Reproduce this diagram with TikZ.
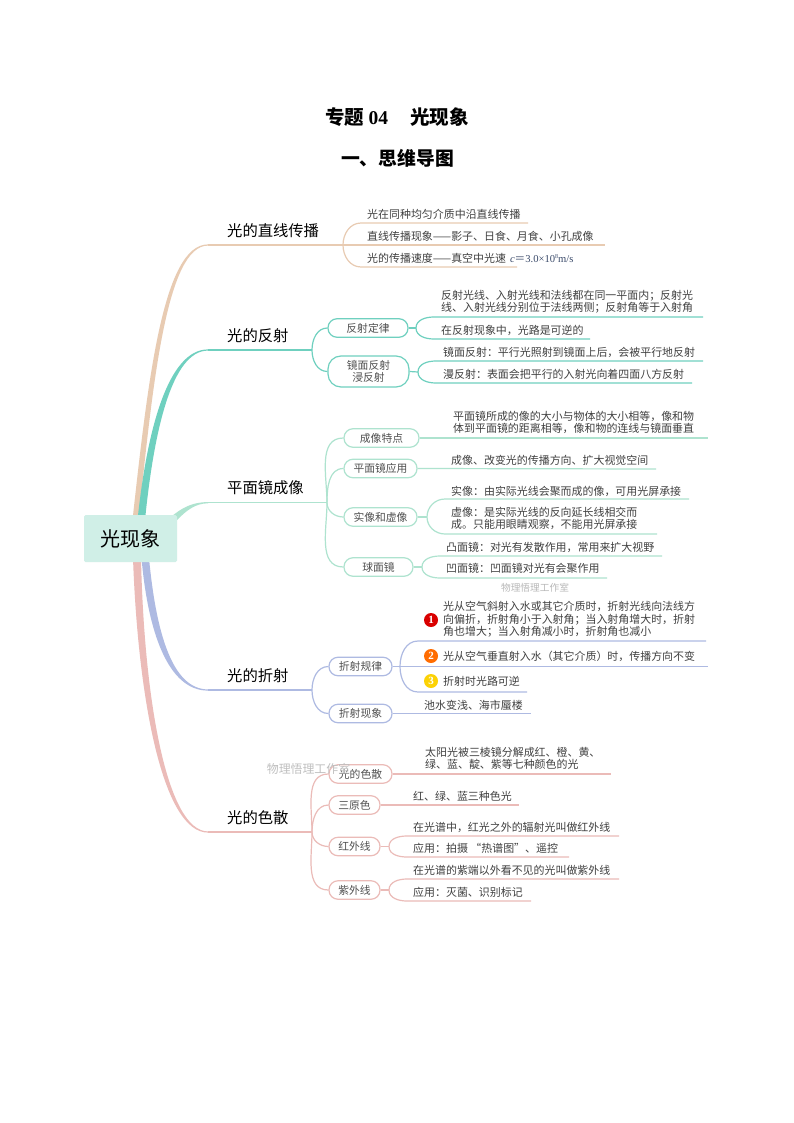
\documentclass[tikz,border=0pt]{standalone}
\usepackage{fontspec}
\usetikzlibrary{calc}
\setmainfont{Noto Sans CJK SC}
\newfontfamily\tm{Liberation Serif}
\definecolor{tanc}{HTML}{E8CBB2}
\definecolor{tealc}{HTML}{6FD0BF}
\definecolor{mintc}{HTML}{AEE3CF}
\definecolor{bluec}{HTML}{AEBAE2}
\definecolor{pinkc}{HTML}{EBBBB8}
\definecolor{rootc}{HTML}{D0EFE7}
\definecolor{txtc}{HTML}{404040}
\definecolor{pilltxt}{HTML}{505050}
\newcommand{\forkup}[3]{\path let \p1=(#2), \p2=(#3) in coordinate (tmpa) at (\x1+18pt,\y2);
  \draw[wire=#1] (#2) to[out=90,in=180] (tmpa) -- (#3);}
\newcommand{\forkdn}[3]{\path let \p1=(#2), \p2=(#3) in coordinate (tmpa) at (\x1+18pt,\y2);
  \draw[wire=#1] (#2) to[out=-90,in=180] (tmpa) -- (#3);}
\tikzset{
  rootbox/.style={fill=rootc,rounded corners=1.5pt,minimum width=93pt,minimum height=47pt,inner sep=0pt,font=\fontsize{20}{24}\selectfont,text=black},
  branchlbl/.style={anchor=west,inner sep=0pt,font=\fontsize{15.3}{18}\selectfont,text=black},
  pill/.style={draw=#1,line width=1.2pt,fill=white,rounded corners=9pt,inner sep=0pt,minimum height=18.5pt,font=\fontsize{10.8}{14}\selectfont,text=pilltxt,align=center},
  leaf/.style={anchor=west,inner sep=0pt,align=left,font=\fontsize{10.95}{12.4}\selectfont,text=txtc},
  wire/.style={draw=#1,line width=1.2pt},
  badge/.style={circle,fill=#1,minimum size=14pt,inner sep=0pt,text=white,font=\tm\bfseries\fontsize{11}{11}\selectfont}
}
\begin{document}
\begin{tikzpicture}[x=1pt,y=-1pt]
\useasboundingbox (0,0) rectangle (794,1123);
\fill[white] (0,0) rectangle (794,1123);

% titles
\node[inner sep=0pt,font=\fontsize{19.5}{22}\selectfont\bfseries] (title) at (397,117) {专题 {\tm 04}\hspace{22pt}光现象};
\node[inner sep=0pt,font=\fontsize{18.8}{22}\selectfont\bfseries] (sub) at (397.5,158) {一、思维导图};

% trunk-to-branch tapers
\fill[tanc] (132.5,520) .. controls (148,380) and (163,244.4) .. (208,244.4) -- (208,245.6) .. controls (167,245.6) and (153,380) .. (138.5,520) -- cycle;
\fill[tealc] (137.5,520) .. controls (147,430) and (168,349.4) .. (208,349.4) -- (208,350.6) .. controls (172,350.6) and (154,430) .. (145,520) -- cycle;
\fill[mintc] (172,516) .. controls (182,508) and (192,502.1) .. (208,502.1) -- (208,503.3) .. controls (195,503.3) and (186,511) .. (177,520) -- cycle;
\fill[bluec] (141.5,558) .. controls (148,632) and (168,690.6) .. (208,690.6) -- (208,689.4) .. controls (172,689.4) and (156,632) .. (149,558) -- cycle;
\fill[pinkc] (133,558) .. controls (138,700) and (163,832.6) .. (208,832.6) -- (208,831.4) .. controls (167,831.4) and (144,700) .. (141,558) -- cycle;

% root
\node[rootbox] (root) at (130.5,538.5) {光现象};

% branch anchors
\coordinate (a1) at (208,245); \coordinate (h1) at (343,245);
\coordinate (a2) at (208,350); \coordinate (h2) at (312,350);
\coordinate (a3) at (208,502.7); \coordinate (h3) at (327,502.7);
\coordinate (a4) at (208,690); \coordinate (h4) at (312,690);
\coordinate (a5) at (208,832); \coordinate (h5) at (312,832);
\draw[wire=tanc] (a1) -- (h1);
\draw[wire=tealc] (a2) -- (h2);
\draw[wire=mintc] (a3) -- (h3);
\draw[wire=bluec] (a4) -- (h4);
\draw[wire=pinkc] (a5) -- (h5);

% branch labels
\node[branchlbl] (l1) at (227,231) {光的直线传播};
\node[branchlbl] (l2) at (227,336) {光的反射};
\node[branchlbl] (l3) at (227,488) {平面镜成像};
\node[branchlbl] (l4) at (227,676) {光的折射};
\node[branchlbl] (l5) at (227,818) {光的色散};

% branch 1
\coordinate (e11) at (528,223); \coordinate (e12) at (605,245); \coordinate (e13) at (517,267);
\forkup{tanc}{h1}{e11}
\draw[wire=tanc] (h1) -- (e12);
\forkdn{tanc}{h1}{e13}
\node[leaf] (t11) at (367,214) {光在同种均匀介质中沿直线传播};
\node[leaf] (t12) at (367,236) {直线传播现象——影子、日食、月食、小孔成像};
\node[leaf] (t13) at (367,258) {光的传播速度——真空中光速\hspace{4pt}{\fontsize{10.6}{12}\selectfont\color[HTML]{3A4A6A}{\tm\textit{c}}＝{\tm 3.0×10\raisebox{3.4pt}{\fontsize{6}{6}\selectfont 8}m/s}}};

% branch 2
\node[pill=tealc,minimum width=80pt] (p21) at (368,328) {反射定律};
\node[pill=tealc,minimum width=81pt,minimum height=31pt,rounded corners=13pt,font=\fontsize{10.8}{12.6}\selectfont] (p22) at (368.5,371.5) {镜面反射\\浸反射};
\draw[wire=tealc] (h2) to[out=90,in=180] (p21.west);
\draw[wire=tealc] (h2) to[out=-90,in=180] (p22.west);
\coordinate (h21) at (416,328); \coordinate (h22) at (418,372);
\coordinate (e211) at (703,317); \coordinate (e212) at (590,339);
\coordinate (e221) at (703,361); \coordinate (e222) at (692,383);
\draw[wire=tealc] (p21.east) -- (h21);
\draw[wire=tealc] (p22.east) -- (h22);
\forkup{tealc}{h21}{e211}
\forkdn{tealc}{h21}{e212}
\forkup{tealc}{h22}{e221}
\forkdn{tealc}{h22}{e222}
\node[leaf] (t211) at (441,302) {反射光线、入射光线和法线都在同一平面内；反射光\\线、入射光线分别位于法线两侧；反射角等于入射角};
\node[leaf] (t212) at (441,330) {在反射现象中，光路是可逆的};
\node[leaf] (t221) at (443,352) {镜面反射：平行光照射到镜面上后，会被平行地反射};
\node[leaf] (t222) at (443,374) {漫反射：表面会把平行的入射光向着四面八方反射};

% branch 3
\node[pill=mintc,minimum width=75pt] (p31) at (381.5,438) {成像特点};
\node[pill=mintc,minimum width=73pt] (p32) at (380.5,468.5) {平面镜应用};
\node[pill=mintc,minimum width=73pt] (p33) at (380.5,517) {实像和虚像};
\node[pill=mintc,minimum width=69pt] (p34) at (378.5,567) {球面镜};
\draw[wire=mintc] (h3) to[out=-90,in=180] (p33.west);
\draw[wire=mintc] (h3) to[out=90,in=180] (p32.west);
\draw[wire=mintc] (h3) to[out=90,in=180] (p31.west);
\draw[wire=mintc] (h3) to[out=-90,in=180] (p34.west);
\coordinate (e31) at (708,438); \coordinate (e32) at (656,469);
\coordinate (h33) at (427,517); \coordinate (h34) at (422,567);
\coordinate (e331) at (689,499); \coordinate (e332) at (657,534);
\coordinate (e341) at (662,556); \coordinate (e342) at (607,578);
\draw[wire=mintc] (p31.east) -- (e31);
\draw[wire=mintc] (p32.east) -- (e32);
\draw[wire=mintc] (p33.east) -- (h33);
\draw[wire=mintc] (p34.east) -- (h34);
\forkup{mintc}{h33}{e331}
\forkdn{mintc}{h33}{e332}
\forkup{mintc}{h34}{e341}
\forkdn{mintc}{h34}{e342}
\node[leaf] (t31) at (453,422.5) {平面镜所成的像的大小与物体的大小相等，像和物\\体到平面镜的距离相等，像和物的连线与镜面垂直};
\node[leaf] (t32) at (451,460) {成像、改变光的传播方向、扩大视觉空间};
\node[leaf] (t331) at (451,491) {实像：由实际光线会聚而成的像，可用光屏承接};
\node[leaf] (t332) at (451,518.5) {虚像：是实际光线的反向延长线相交而\\成。只能用眼睛观察，不能用光屏承接};
\node[leaf] (t341) at (446,547) {凸面镜：对光有发散作用，常用来扩大视野};
\node[leaf] (t342) at (446,568) {凹面镜：凹面镜对光有会聚作用};
\node[inner sep=0pt,font=\fontsize{9.7}{11}\selectfont,text=black!28] (wm1) at (535,588) {物理悟理工作室};

% branch 4
\node[pill=bluec,minimum width=63pt] (p41) at (360.5,666.5) {折射规律};
\node[pill=bluec,minimum width=63pt] (p42) at (360.5,713.5) {折射现象};
\draw[wire=bluec] (h4) to[out=90,in=180] (p41.west);
\draw[wire=bluec] (h4) to[out=-90,in=180] (p42.west);
\coordinate (h41) at (400,666.5);
\coordinate (e411) at (706,641); \coordinate (e412) at (708,666.5); \coordinate (e413) at (527,692);
\coordinate (e42) at (531,713.5);
\draw[wire=bluec] (p41.east) -- (e412);
\forkup{bluec}{h41}{e411}
\forkdn{bluec}{h41}{e413}
\draw[wire=bluec] (p42.east) -- (e42);
\node[badge={red!85!black}] (b1) at (431,620) {1};
\node[badge={orange!85!red}] (b2) at (431,656) {2};
\node[badge={yellow!70!orange}] (b3) at (431,681) {3};
\node[leaf] (t411) at (443,619.5) {光从空气斜射入水或其它介质时，折射光线向法线方\\向偏折，折射角小于入射角；当入射角增大时，折射\\角也增大；当入射角减小时，折射角也减小};
\node[leaf] (t412) at (443,656) {光从空气垂直射入水（其它介质）时，传播方向不变};
\node[leaf] (t413) at (443,681) {折射时光路可逆};
\node[leaf] (t42) at (424,705) {池水变浅、海市蜃楼};

% branch 5
\node[pill=pinkc,minimum width=63pt] (p51) at (360.5,774) {光的色散};
\node[inner sep=0pt,font=\fontsize{11.9}{14}\selectfont,text=black!25] (wm2) at (308.5,769) {物理悟理工作室};
\node[pill=pinkc,minimum width=51pt] (p52) at (354.5,805) {三原色};
\node[pill=pinkc,minimum width=51pt] (p53) at (354.5,846.5) {红外线};
\node[pill=pinkc,minimum width=51pt] (p54) at (354.5,890) {紫外线};
\draw[wire=pinkc] (h5) to[out=90,in=180] (p51.west);
\draw[wire=pinkc] (h5) to[out=90,in=180] (p52.west);
\draw[wire=pinkc] (h5) to[out=-90,in=180] (p53.west);
\draw[wire=pinkc] (h5) to[out=-90,in=180] (p54.west);
\coordinate (e51) at (611,774); \coordinate (e52) at (519,805);
\coordinate (h53) at (389,846.5); \coordinate (h54) at (389,890);
\coordinate (e531) at (619,836); \coordinate (e532) at (569,857);
\coordinate (e541) at (619,879); \coordinate (e542) at (531,901);
\draw[wire=pinkc] (p51.east) -- (e51);
\draw[wire=pinkc] (p52.east) -- (e52);
\draw[wire=pinkc] (p53.east) -- (h53);
\draw[wire=pinkc] (p54.east) -- (h54);
\forkup{pinkc}{h53}{e531}
\forkdn{pinkc}{h53}{e532}
\forkup{pinkc}{h54}{e541}
\forkdn{pinkc}{h54}{e542}
\node[leaf] (t51) at (425,758.5) {太阳光被三棱镜分解成红、橙、黄、\\绿、蓝、靛、紫等七种颜色的光};
\node[leaf] (t52) at (413,796) {红、绿、蓝三种色光};
\node[leaf] (t531) at (413,827) {在光谱中，红光之外的辐射光叫做红外线};
\node[leaf] (t532) at (413,848) {应用：拍摄 “热谱图”、遥控};
\node[leaf] (t541) at (413,870) {在光谱的紫端以外看不见的光叫做紫外线};
\node[leaf] (t542) at (413,892) {应用：灭菌、识别标记};
\end{tikzpicture}
\end{document}
